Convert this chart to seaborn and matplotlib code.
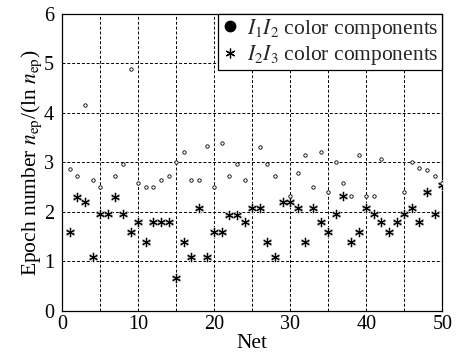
import numpy as np
import pandas as pd
import matplotlib
matplotlib.use("Agg")
import matplotlib.pyplot as plt
import matplotlib.ticker as mtick
from matplotlib.lines import Line2D
import seaborn as sns

# values (nan = not visible)
nets = list(range(1, 51))
i1i2 = [2.86, 2.72, 4.16, 2.65, 2.49, np.nan, 2.72, 2.96, 4.88, 2.57,
        2.49, 2.49, 2.65, 2.72, 3.00, 3.20, 2.65, 2.65, 3.33, 2.49,
        3.38, 2.72, 2.96, 2.65, np.nan, 3.30, 2.96, 2.72, np.nan, 2.32,
        2.79, 3.15, 2.49, 3.20, 2.40, 3.00, 2.57, 2.32, 3.15, 2.31,
        2.31, 3.06, np.nan, np.nan, 2.40, 3.00, 2.89, 2.84, 2.72, 2.57]
i2i3 = [1.60, 2.30, 2.20, 1.08, 1.96, 1.96, 2.30, 1.96, 1.60, 1.79,
        1.39, 1.79, 1.79, 1.79, 0.67, 1.39, 1.08, 2.07, 1.08, 1.60,
        1.60, 1.94, 1.94, 1.79, 2.07, 2.07, 1.39, 1.08, 2.19, 2.19,
        2.07, 1.39, 2.07, 1.79, 1.60, 1.96, 2.31, 1.39, 1.60, 2.07,
        1.96, 1.79, 1.60, 1.79, 1.96, 2.07, 1.79, 2.40, 1.96, 2.54]
lab12 = r"$I_1I_2$ color components"
lab23 = r"$I_2I_3$ color components"

df = pd.DataFrame({"Net": nets, "I1I2": i1i2, "I2I3": i2i3})

sns.set_theme(style="white")
plt.rcParams['font.family'] = ['Liberation Serif', 'DejaVu Serif']
plt.rcParams['mathtext.fontset'] = 'stix'

fig = plt.figure(figsize=(4.59, 3.58), dpi=100)
ax = fig.add_axes([0.1357, 0.1321, 0.8279, 0.8296])

asterisk = (6, 2, 0)
# soft grey halo under each asterisk, as in the scanned figure
sns.scatterplot(data=df, x="Net", y="I2I3", ax=ax, marker=asterisk, s=30,
                color="#bbbbbb", linewidth=1.8, edgecolor="#bbbbbb", zorder=3)
sns.scatterplot(data=df, x="Net", y="I2I3", ax=ax, marker=asterisk, s=30,
                color="black", linewidth=0.7, edgecolor="black", zorder=4)
sns.scatterplot(data=df, x="Net", y="I1I2", ax=ax, marker="o", s=6,
                facecolor="white", edgecolor="black", linewidth=0.6, zorder=5)

ax.set_xlim(0, 50)
ax.set_ylim(0, 6)
ax.xaxis.set_major_locator(mtick.MultipleLocator(10))
ax.xaxis.set_minor_locator(mtick.MultipleLocator(5))
ax.yaxis.set_major_locator(mtick.MultipleLocator(1))
ax.grid(which="both", color="black", linestyle=(0, (3, 2)), linewidth=0.7)
ax.tick_params(which="both", direction="in", length=3, width=0.7,
               labelsize=14.5, color="black", labelcolor="black")
ax.tick_params(axis="x", pad=3)
ax.tick_params(axis="y", pad=6)
for sp in ax.spines.values():
    sp.set_color("black")
    sp.set_linewidth(0.9)

ax.set_xlabel("Net", fontsize=15.5, color="black", labelpad=0)
ax.set_ylabel(r"Epoch number $n_{\rm ep}$/(ln $n_{\rm ep}$)", fontsize=15.5,
              color="black", labelpad=0)

handles = [Line2D([], [], marker="o", color="black", linestyle="none", markersize=7.5),
           Line2D([], [], marker=asterisk, color="black", linestyle="none",
                  markersize=7, markeredgewidth=0.9)]
leg = ax.legend(handles, [lab12, lab23], loc="upper right", fontsize=15.5,
                frameon=True, fancybox=False, borderaxespad=0, handlelength=0.8,
                handletextpad=0.4, borderpad=0.15, labelspacing=0.1)
leg.get_frame().set_edgecolor("black")
leg.get_frame().set_linewidth(0.9)
leg.get_frame().set_alpha(1)
leg.set_zorder(10)

fig.savefig("out.png", dpi=100)
